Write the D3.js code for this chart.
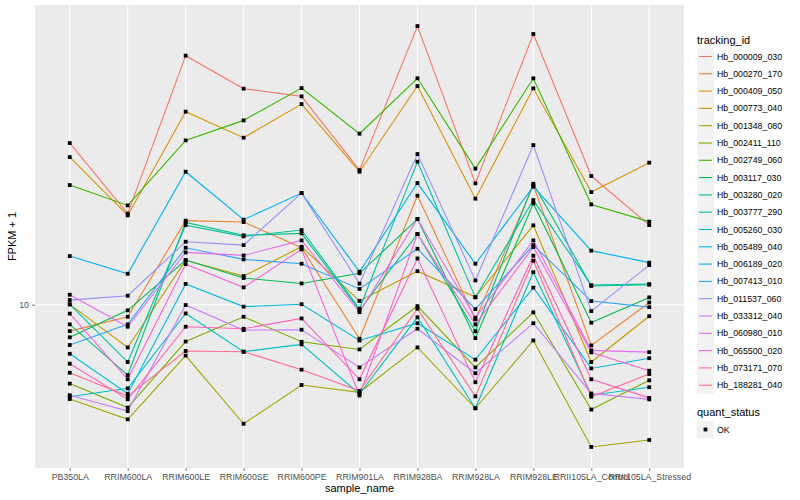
<!DOCTYPE html>
<html>
<head>
<meta charset="utf-8">
<script src="https://cdn.jsdelivr.net/npm/d3@7"></script>
<style>
  body { margin: 0; background: #fff; }
  text { font-family: "Liberation Sans", Arial, sans-serif; }
</style>
</head>
<body>
<div id="chart"></div>
<script>
// categories
const samples = ['PB350LA', 'RRIM600LA', 'RRIM600LE', 'RRIM600SE', 'RRIM600PE', 'RRIM901LA',
  'RRIM928BA', 'RRIM928LA', 'RRIM928LE', 'RRII105LA_Control', 'RRII105LA_Stressed']

const trackingIds = ['Hb_000009_030', 'Hb_000270_170', 'Hb_000409_050', 'Hb_000773_040', 'Hb_001348_080',
  'Hb_002411_110', 'Hb_002749_060', 'Hb_003117_030', 'Hb_003280_020', 'Hb_003777_290',
  'Hb_005260_030', 'Hb_005489_040', 'Hb_006189_020', 'Hb_007413_010', 'Hb_011537_060',
  'Hb_033312_040', 'Hb_060980_010', 'Hb_065500_020', 'Hb_073171_070', 'Hb_188281_040']

// FPKM + 1 per tracking id, one value per sample
const hb000009 = [25.35, 16.89, 41.93, 34.67, 33.17, 21.70, 49.72, 20.10, 47.49, 20.97, 15.81]
const hb000270 = [8.59, 9.33, 16.22, 16.09, 13.88, 8.22, 18.73, 9.19, 19.87, 7.91, 10.13]
const hb000409 = [23.39, 16.72, 30.37, 26.15, 31.73, 21.50, 35.20, 18.41, 34.74, 19.12, 22.65]
const hb000773 = [10.02, 7.82, 12.91, 11.79, 13.96, 10.22, 12.13, 10.45, 15.79, 7.19, 9.36]
const hb001348 = [5.81, 5.17, 7.46, 5.04, 6.30, 6.04, 7.82, 5.51, 8.14, 4.41, 4.59]
const hb002411 = [6.35, 5.53, 8.09, 9.33, 8.08, 7.73, 9.92, 6.97, 9.57, 5.47, 6.47]
const hb002749 = [19.91, 17.71, 25.75, 28.89, 34.80, 26.76, 36.80, 21.88, 36.80, 17.81, 16.13]
const hb003117 = [8.29, 9.68, 12.93, 11.66, 11.30, 11.98, 16.37, 8.25, 17.91, 9.02, 10.43]
const hb003280 = [8.93, 6.67, 16.06, 14.91, 15.08, 9.68, 15.02, 8.58, 20.06, 11.14, 11.22]
const hb003777 = [10.02, 7.19, 15.81, 14.82, 15.37, 9.77, 22.78, 10.43, 18.26, 11.19, 11.26]
const hb005260 = [5.89, 6.18, 9.51, 7.63, 7.96, 5.98, 9.30, 5.51, 12.06, 5.94, 6.22]
const hb005489 = [7.54, 5.99, 11.27, 9.89, 10.03, 8.14, 8.99, 7.29, 11.03, 6.93, 7.35]
const hb006189 = [13.23, 11.95, 21.50, 16.31, 19.01, 12.09, 20.14, 12.66, 19.72, 13.65, 12.74]
const hb007413 = [7.93, 8.93, 13.88, 12.98, 12.66, 10.95, 13.80, 9.75, 14.09, 10.21, 9.86]
const hb011537 = [10.27, 10.53, 14.37, 14.09, 19.01, 11.29, 23.80, 11.50, 25.06, 9.64, 12.56]
const hb033312 = [5.94, 5.42, 9.98, 8.64, 8.66, 6.97, 8.71, 6.74, 8.99, 6.00, 5.80]
const hb060980 = [10.59, 8.81, 13.51, 13.28, 14.48, 9.58, 16.37, 9.28, 14.48, 7.69, 7.61]
const hb065500 = [9.50, 6.51, 12.63, 11.05, 13.75, 5.93, 15.02, 8.93, 13.93, 7.60, 6.84]
const hb073171 = [7.12, 5.80, 8.81, 8.71, 9.24, 6.51, 13.05, 6.40, 13.26, 6.51, 5.85]
const hb188281 = [6.76, 5.91, 7.66, 7.63, 6.88, 6.09, 9.77, 5.90, 12.88, 5.89, 6.71]

const allSeries = [hb000009, hb000270, hb000409, hb000773, hb001348, hb002411, hb002749, hb003117,
  hb003280, hb003777, hb005260, hb005489, hb006189, hb007413, hb011537, hb033312, hb060980,
  hb065500, hb073171, hb188281]

const yTicks = [10]

// ggplot default hue palette for 20 groups
const colors = ['#F8766D', '#EA8331', '#D89000', '#C09B00', '#A3A500', '#7CAE00', '#39B600',
  '#00BB4E', '#00BF7D', '#00C1A3', '#00BFC4', '#00BAE0', '#00B0F6', '#35A2FF', '#9590FF',
  '#C77CFF', '#E76BF3', '#FA62DB', '#FF62BC', '#FF6C91']

// canvas
const width = 800,
  height = 500,
  panel = { left: 35, right: 684, top: 5, bottom: 468 }

let svg = d3.select('#chart')
  .append('svg')
  .attr('width', width)
  .attr('height', height)

// scales (with ggplot-ish expansion)
const xScale = d3.scalePoint()
  .domain(samples)
  .range([panel.left, panel.right])
  .padding(0.6)

const allValues = allSeries.flat()
const lo = Math.log10(d3.min(allValues)),
  hi = Math.log10(d3.max(allValues)),
  pad = (hi - lo) * 0.05
const yScale = d3.scaleLog()
  .domain([Math.pow(10, lo - pad), Math.pow(10, hi + pad)])
  .range([panel.bottom, panel.top])

// panel + grid
svg.append('rect')
  .attr('x', panel.left).attr('y', panel.top)
  .attr('width', panel.right - panel.left).attr('height', panel.bottom - panel.top)
  .attr('fill', '#ebebeb')

svg.selectAll('.vgrid')
  .data(samples)
  .enter().append('line')
  .attr('x1', d => xScale(d)).attr('x2', d => xScale(d))
  .attr('y1', panel.top).attr('y2', panel.bottom)
  .attr('stroke', '#fff').attr('stroke-width', 1.1)

svg.selectAll('.hgrid')
  .data(yTicks)
  .enter().append('line')
  .attr('x1', panel.left).attr('x2', panel.right)
  .attr('y1', d => yScale(d)).attr('y2', d => yScale(d))
  .attr('stroke', '#fff').attr('stroke-width', 1.1)

// lines
const line = d3.line()
  .x((d, i) => xScale(samples[i]))
  .y(d => yScale(d))

svg.selectAll('.series')
  .data(allSeries)
  .enter().append('path')
  .attr('d', line)
  .attr('fill', 'none')
  .attr('stroke', (d, i) => colors[i])
  .attr('stroke-width', 1.1)

// points
allSeries.forEach(vals => {
  svg.selectAll(null)
    .data(vals)
    .enter().append('rect')
    .attr('x', (d, i) => xScale(samples[i]) - 1.9)
    .attr('y', d => yScale(d) - 1.9)
    .attr('width', 3.8).attr('height', 3.8)
    .attr('fill', '#000')
})

// axes
const xAxis = svg.append('g')
  .attr('transform', `translate(0, ${panel.bottom})`)
  .call(d3.axisBottom(xScale).tickSize(3).tickPadding(3))
const yAxis = svg.append('g')
  .attr('transform', `translate(${panel.left}, 0)`)
  .call(d3.axisLeft(yScale).tickValues(yTicks).tickFormat(d3.format('d')).tickSize(3).tickPadding(3))

;[xAxis, yAxis].forEach(g => {
  g.select('.domain').remove()
  g.selectAll('line').attr('stroke', '#7f7f7f')
  g.selectAll('text').attr('fill', '#4d4d4d').style('font-size', '8.8px')
    .style('font-family', '"Liberation Sans", Arial, sans-serif')
})

svg.append('text')
  .attr('x', (panel.left + panel.right) / 2).attr('y', 492)
  .attr('text-anchor', 'middle')
  .style('font-size', '11px')
  .text('sample_name')

svg.append('text')
  .attr('transform', `translate(16, ${(panel.top + panel.bottom) / 2}) rotate(-90)`)
  .attr('text-anchor', 'middle')
  .style('font-size', '11px')
  .text('FPKM + 1')

// legend: tracking_id
const legend = svg.append('g').attr('transform', 'translate(697, 0)')
legend.append('text')
  .attr('x', 0).attr('y', 44)
  .style('font-size', '11px')
  .text('tracking_id')

const keyStep = 17.3,
  keyTop = 48
let keys = legend.selectAll('.key')
  .data(trackingIds)
  .enter().append('g')
  .attr('transform', (d, i) => `translate(0, ${keyTop + i * keyStep})`)
keys.append('rect')
  .attr('width', 17).attr('height', 17)
  .attr('fill', '#f2f2f2')
keys.append('line')
  .attr('x1', 2).attr('x2', 15).attr('y1', 8.5).attr('y2', 8.5)
  .attr('stroke', (d, i) => colors[i]).attr('stroke-width', 1.1)
keys.append('text')
  .attr('x', 20).attr('y', 8.5).attr('dy', '0.35em')
  .style('font-size', '8.8px')
  .text(d => d)

// legend: quant_status
legend.append('text')
  .attr('x', 0).attr('y', 416)
  .style('font-size', '11px')
  .text('quant_status')
legend.append('rect')
  .attr('x', 0).attr('y', 421).attr('width', 17).attr('height', 17)
  .attr('fill', '#f2f2f2')
legend.append('rect')
  .attr('x', 6.6).attr('y', 427.6).attr('width', 3.8).attr('height', 3.8)
  .attr('fill', '#000')
legend.append('text')
  .attr('x', 20).attr('y', 429.5).attr('dy', '0.35em')
  .style('font-size', '8.8px')
  .text('OK')
</script>
</body>
</html>
